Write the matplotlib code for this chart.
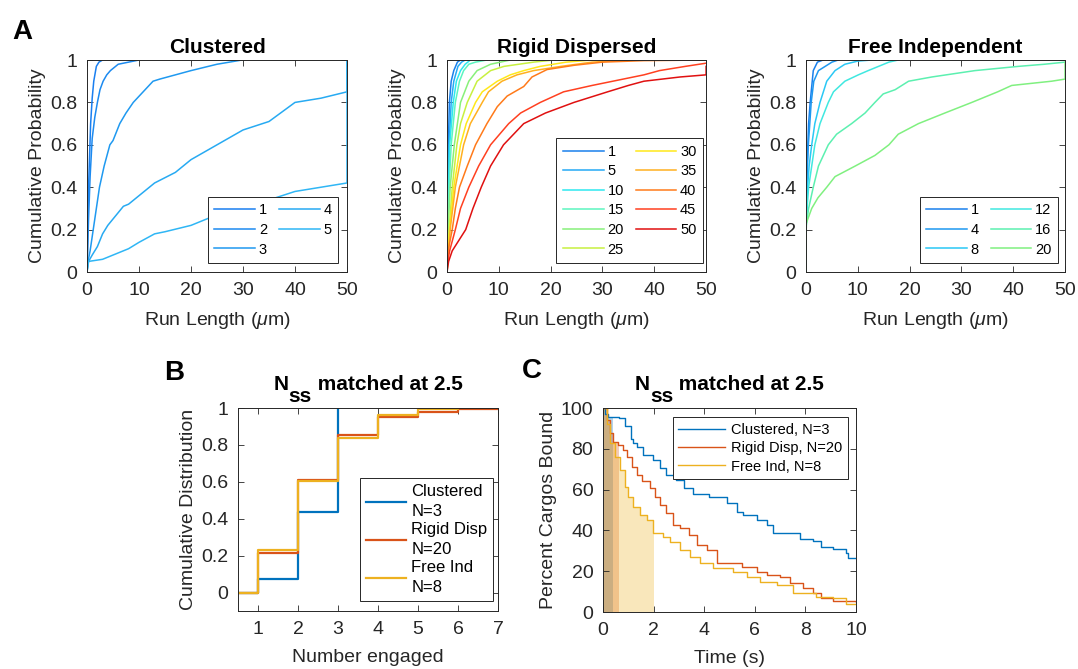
import numpy as np
import matplotlib
matplotlib.use('Agg')
import matplotlib.pyplot as plt
from matplotlib.transforms import offset_copy

plt.rcParams['font.family'] = ['Liberation Sans', 'DejaVu Sans']
plt.rcParams['mathtext.fontset'] = 'custom'
plt.rcParams['mathtext.rm'] = 'Liberation Sans'
plt.rcParams['mathtext.it'] = 'Liberation Sans:italic'
plt.rcParams['mathtext.bf'] = 'Liberation Sans:bold'

# ---- panel A: clustered ----
clus_labels = ['1', '2', '3', '4', '5']
clus_x = [
    [0, 0.15, 0.3, 0.5, 0.7, 1.0, 1.3, 1.8, 2.3, 3.0],
    [0, 0.15, 0.3, 0.6, 1.0, 1.5, 2.0, 2.5, 3.1, 3.8, 4.5, 6, 8, 10],
    [0, 0.2, 0.6, 1.2, 1.8, 2.4, 3.3, 4.4, 5.0, 6.3, 7.5, 8.9, 10.8, 12.7, 14, 17, 20, 25, 29.8],
    [0, 0.3, 1, 2, 3, 4, 5, 7, 8, 10, 13, 17, 20, 25, 30, 35, 40, 45, 50, 50],
    [0, 0.3, 3, 5, 8, 10, 13, 15, 20, 25, 30, 35, 40, 45, 50, 50],
]
clus_y = [
    [0, 0.2, 0.4, 0.55, 0.7, 0.82, 0.9, 0.97, 0.99, 1.0],
    [0, 0.12, 0.25, 0.45, 0.63, 0.73, 0.8, 0.86, 0.9, 0.93, 0.95, 0.98, 0.99, 1.0],
    [0, 0.05, 0.1, 0.2, 0.3, 0.4, 0.5, 0.6, 0.62, 0.7, 0.75, 0.8, 0.85, 0.9, 0.91, 0.93, 0.95, 0.98, 1.0],
    [0, 0.05, 0.08, 0.12, 0.18, 0.22, 0.25, 0.31, 0.32, 0.36, 0.42, 0.47, 0.53, 0.6, 0.67, 0.71, 0.8, 0.82, 0.85, 1.0],
    [0, 0.05, 0.06, 0.08, 0.11, 0.14, 0.18, 0.19, 0.22, 0.27, 0.31, 0.34, 0.38, 0.40, 0.42, 1.0],
]

# ---- panel A: rigid dispersed ----
rigid_labels = ['1', '5', '10', '15', '20', '25', '30', '35', '40', '45', '50']
rigid_x = [
    [0, 0.1, 0.25, 0.45, 0.8, 1.3, 2.0, 2.6],
    [0, 0.15, 0.4, 0.8, 1.3, 2.1, 2.8, 3.5],
    [0, 0.2, 0.5, 1.2, 1.8, 2.6, 3.5, 4.5],
    [0, 0.15, 0.4, 0.8, 1.6, 2.4, 3.2, 4.2, 5.5, 7.7],
    [0, 0.2, 0.6, 1.4, 2.6, 4.2, 5.8, 8.4, 12.2],
    [0, 0.4, 1.0, 1.9, 2.6, 3.9, 5.8, 8.4, 11, 16.7, 20.6],
    [0, 0.5, 1.3, 2.6, 3.7, 5.5, 6.8, 9.7, 12.2, 14.8, 18, 23, 28],
    [0, 0.6, 1.6, 3.2, 4.5, 6.8, 8, 10.6, 13.5, 16.7, 22, 28, 35],
    [0, 0.2, 1.0, 1.6, 2.4, 3.9, 5.5, 7.7, 9.7, 11.6, 14.8, 16.4, 19.3, 24.5, 30, 38, 50],
    [0, 0.5, 1.6, 2.6, 4.2, 6.1, 8.4, 11.9, 14.2, 18, 22.5, 28, 32, 38, 41, 46, 50],
    [0, 0.3, 1.0, 3.6, 5.0, 6.6, 8.4, 10.9, 14.8, 19, 24.5, 31, 35, 38, 45, 50, 50],
]
rigid_y = [
    [0, 0.3, 0.6, 0.8, 0.9, 0.95, 0.99, 1.0],
    [0, 0.3, 0.6, 0.8, 0.9, 0.97, 0.99, 1.0],
    [0, 0.3, 0.6, 0.8, 0.9, 0.95, 0.98, 1.0],
    [0, 0.2, 0.4, 0.6, 0.8, 0.9, 0.95, 0.98, 0.99, 1.0],
    [0, 0.2, 0.4, 0.6, 0.8, 0.9, 0.95, 0.98, 1.0],
    [0, 0.2, 0.4, 0.6, 0.7, 0.8, 0.9, 0.95, 0.97, 0.99, 1.0],
    [0, 0.2, 0.4, 0.6, 0.7, 0.8, 0.85, 0.9, 0.93, 0.95, 0.97, 0.99, 1.0],
    [0, 0.2, 0.4, 0.6, 0.7, 0.8, 0.85, 0.9, 0.93, 0.95, 0.97, 0.99, 1.0],
    [0.03, 0.1, 0.2, 0.3, 0.4, 0.5, 0.6, 0.7, 0.78, 0.83, 0.875, 0.92, 0.955, 0.975, 0.99, 0.997, 1.0],
    [0.03, 0.1, 0.2, 0.3, 0.4, 0.5, 0.6, 0.7, 0.75, 0.8, 0.85, 0.88, 0.9, 0.93, 0.95, 0.97, 0.985],
    [0, 0.05, 0.1, 0.2, 0.3, 0.4, 0.5, 0.6, 0.7, 0.75, 0.8, 0.85, 0.88, 0.9, 0.92, 0.93, 0.97],
]

# ---- panel A: free independent ----
free_labels = ['1', '4', '8', '12', '16', '20']
free_x = [
    [0, 0.05, 0.2, 0.5, 0.8, 1.4, 2.2, 3.3],
    [0, 0.05, 0.2, 0.45, 1.0, 1.5, 2.4, 3.7, 5, 6.2],
    [0, 0.05, 0.3, 0.6, 1.1, 1.7, 2.7, 4.0, 5.6, 7.5, 10, 12.7],
    [0, 0.05, 0.5, 1.1, 1.7, 2.7, 4.3, 5.3, 7.5, 10.1, 12, 14, 16, 17.8],
    [0, 0.05, 0.5, 1.4, 2.4, 4.3, 5.9, 8.8, 11.4, 13.3, 14.9, 17.2, 19.8, 24.3, 32.6, 41, 46, 50],
    [0, 0.05, 1.1, 2.3, 4.0, 5.6, 9.5, 13.3, 16, 17.8, 21.7, 26.8, 32, 37, 39.7, 47.4, 50, 50],
]
free_y = [
    [0, 0.25, 0.5, 0.7, 0.8, 0.95, 0.99, 1.0],
    [0, 0.25, 0.45, 0.6, 0.8, 0.9, 0.95, 0.97, 0.99, 1.0],
    [0, 0.25, 0.4, 0.5, 0.6, 0.7, 0.8, 0.9, 0.95, 0.98, 0.995, 1.0],
    [0, 0.25, 0.4, 0.5, 0.6, 0.7, 0.8, 0.85, 0.9, 0.93, 0.95, 0.97, 0.99, 1.0],
    [0, 0.22, 0.3, 0.4, 0.5, 0.6, 0.65, 0.7, 0.75, 0.8, 0.84, 0.86, 0.9, 0.92, 0.95, 0.97, 0.98, 0.99],
    [0, 0.23, 0.3, 0.35, 0.4, 0.45, 0.5, 0.55, 0.6, 0.65, 0.7, 0.75, 0.8, 0.85, 0.88, 0.9, 0.91, 0.99],
]

# ---- panel B ----
clus_n = [0, 1, 2, 3]
clus_cdf = [0, 0.076, 0.435, 1.0]
rigid_n = [0, 1, 2, 3, 4, 5, 6, 7]
rigid_cdf = [0, 0.212, 0.609, 0.855, 0.949, 0.98, 0.996, 1.0]
free_n = [0, 1, 2, 3, 4, 5, 6]
free_cdf = [0, 0.23, 0.607, 0.837, 0.964, 0.995, 1.0]
b_labels = ['Clustered\nN=3', 'Rigid Disp\nN=20', 'Free Ind\nN=8']

# ---- panel C ----
t_clus = [0, 0.08, 0.2, 0.65, 0.87, 1.1, 1.2, 1.33, 1.59, 1.99, 2.25, 2.5, 2.9, 3.2, 3.57, 4.2,
          4.9, 5.28, 5.55, 6.07, 6.47, 6.73, 7.5, 7.8, 8.3, 8.6, 9.1, 9.6, 9.7, 10]
p_clus = [100, 97, 95.5, 95, 91, 85, 82.7, 81, 77, 74.5, 70.4, 67, 64.7, 60.6, 58, 56.5,
          53.3, 49, 47.5, 45, 42.6, 38.6, 38.6, 36, 35, 32, 30.7, 28.8, 26.3, 26.3]
t_rigid = [0, 0.14, 0.28, 0.4, 0.6, 0.8, 0.93, 1.13, 1.33, 1.53, 1.86, 2.05, 2.25, 2.5, 2.78, 3.04,
           3.4, 3.7, 4.1, 4.5, 5.15, 5.5, 6.07, 6.47, 7.0, 7.4, 7.9, 8.3, 8.6, 9.1, 10]
p_rigid = [100, 94, 87.6, 83.5, 82, 79.4, 76, 71, 67, 64, 60.6, 56.5, 52.5, 48.4, 42.6, 41,
           37.7, 32.8, 30.4, 23.9, 23.9, 22.2, 19.8, 18.2, 17.3, 14, 11.6, 9.2, 7, 5.5, 5]
t_free = [0, 0.14, 0.28, 0.47, 0.67, 0.87, 1.0, 1.2, 1.46, 1.73, 1.99, 2.38, 2.65, 3.04, 3.44,
          3.83, 4.36, 5.15, 5.68, 6.2, 6.87, 7.5, 8.4, 9.1, 9.6, 10]
p_free = [100, 92, 83, 76, 69.6, 61.4, 56.5, 51.6, 47.5, 45, 38.6, 37, 34.5, 30.4, 27,
          24, 21.4, 19.8, 17.3, 14.9, 13.2, 9.2, 7.5, 6.7, 4, 4]
c_labels = ['Clustered, N=3', 'Rigid Disp, N=20', 'Free Ind, N=8']
c_cut = [0.41, 0.65, 2.0]

# colours
clus_colors = ['#1a7ff0', '#1c8af0', '#1f99f0', '#27aaf2', '#2fb6f5']
rigid_colors = ['#1a80ec', '#25aaf5', '#2de8f0', '#5cf5c0', '#88f07a', '#c8f040',
                '#ffe81a', '#ffb020', '#ff7a1a', '#ff4020', '#e01010']
free_colors = ['#1a80ec', '#1e98f0', '#2ac8f5', '#40e8e0', '#5cf0b0', '#80f080']
mat_colors = ['#0072bd', '#d95319', '#edb120']
axcol = '#262626'

fig = plt.figure(figsize=(10.78, 6.69), dpi=100)
renderer = fig.canvas.get_renderer()


def style(ax):
    ax.tick_params(direction='in', top=True, right=True, length=4, width=0.6,
                   labelsize=14, colors=axcol, pad=7)
    for s in ax.spines.values():
        s.set_color(axcol)
        s.set_linewidth(0.7)


def nss_title(ax):
    # N with a lowered bold "ss", then the rest, centred over the axes
    parts = ['N', 'ss', ' matched at 2.5']
    drops = [0, -12, 0]
    texts = [ax.text(0, 0, p, fontsize=15, fontweight='bold') for p in parts]
    widths = [t.get_window_extent(renderer).width for t in texts]
    x = -sum(widths) / 2
    for t, w, d in zip(texts, widths, drops):
        t.set_transform(offset_copy(ax.transAxes, fig, x=x, y=18 + d, units='dots'))
        t.set_position((0.5, 1.0))
        t.set_va('baseline')
        x += w


def panel_a(rect, title, xs, ys, labels, colors, lx):
    ax = fig.add_axes(rect)
    for x, y, lab, c in zip(xs, ys, labels, colors):
        ax.plot(x, y, color=c, lw=1.1, label=lab)
    ax.set_xlim(0, 50)
    ax.set_ylim(0, 1)
    ax.set_xticks([0, 10, 20, 30, 40, 50])
    ax.set_yticks([0, 0.2, 0.4, 0.6, 0.8, 1])
    ax.set_yticklabels(['0', '0.2', '0.4', '0.6', '0.8', '1'])
    ax.set_title(title, fontsize=15, fontweight='bold', pad=5)
    ax.set_xlabel(r'Run Length ($\mu$m)', fontsize=14, color=axcol, labelpad=8)
    ax.set_ylabel('Cumulative Probability', fontsize=14, color=axcol, labelpad=3)
    style(ax)
    leg = ax.legend(ncol=2, loc='lower right', bbox_to_anchor=(lx, 0.042), fontsize=10.5,
                    handlelength=2.8, fancybox=False, framealpha=1, edgecolor=axcol,
                    borderaxespad=0, columnspacing=0.8, labelspacing=0.38,
                    handletextpad=0.25, borderpad=0.45)
    leg.get_frame().set_linewidth(0.7)
    return ax


panel_a([0.0807, 0.5934, 0.2412, 0.3169], 'Clustered', clus_x, clus_y, clus_labels,
        clus_colors, 0.965)
panel_a([0.4147, 0.5934, 0.2403, 0.3169], 'Rigid Dispersed', rigid_x, rigid_y, rigid_labels,
        rigid_colors, 0.988)
panel_a([0.7477, 0.5934, 0.2403, 0.3169], 'Free Independent', free_x, free_y, free_labels,
        free_colors, 0.973)

# panel B
axb = fig.add_axes([0.2208, 0.0867, 0.2412, 0.3034])
for n, cdf, lab, c in zip([clus_n, rigid_n, free_n], [clus_cdf, rigid_cdf, free_cdf],
                          b_labels, mat_colors):
    axb.step(n, cdf, where='post', color=c, lw=1.6, label=lab)
axb.set_xlim(0.5, 7)
axb.set_ylim(-0.1, 1)
axb.set_xticks([1, 2, 3, 4, 5, 6, 7])
axb.set_yticks([0, 0.2, 0.4, 0.6, 0.8, 1])
axb.set_yticklabels(['0', '0.2', '0.4', '0.6', '0.8', '1'])
nss_title(axb)
axb.set_xlabel('Number engaged', fontsize=14, color=axcol, labelpad=8)
axb.set_ylabel('Cumulative Distribution', fontsize=14, color=axcol, labelpad=3)
style(axb)
leg = axb.legend(loc='lower right', bbox_to_anchor=(0.981, 0.049), fontsize=12,
                 handlelength=2.4, fancybox=False, framealpha=1, edgecolor=axcol,
                 borderaxespad=0, labelspacing=0.15, handletextpad=0.3, borderpad=0.35)
for txt in leg.get_texts():
    txt.set_linespacing(1.45)
leg.get_frame().set_linewidth(0.7)

# panel C
axc = fig.add_axes([0.5594, 0.0852, 0.2347, 0.3049])
for t, p, cut, c in zip([t_clus, t_rigid, t_free], [p_clus, p_rigid, p_free], c_cut, mat_colors):
    t = np.array(t, dtype=float)
    p = np.array(p, dtype=float)
    m = t <= cut
    tf = np.append(t[m], cut)
    pf = np.append(p[m], p[m][-1])
    axc.fill_between(tf, 0, pf, step='post', color=c, alpha=0.3, lw=0)
for t, p, lab, c in zip([t_clus, t_rigid, t_free], [p_clus, p_rigid, p_free], c_labels, mat_colors):
    axc.step(t, p, where='post', color=c, lw=1.0, label=lab)
axc.set_xlim(0, 10)
axc.set_ylim(0, 100)
axc.set_xticks([0, 2, 4, 6, 8, 10])
axc.set_yticks([0, 20, 40, 60, 80, 100])
nss_title(axc)
axc.set_xlabel('Time (s)', fontsize=14, color=axcol, labelpad=8)
axc.set_ylabel('Percent Cargos Bound', fontsize=14, color=axcol, labelpad=3)
style(axc)
leg = axc.legend(loc='upper right', bbox_to_anchor=(0.968, 0.956), fontsize=10.5,
                 handlelength=3.2, fancybox=False, framealpha=1, edgecolor=axcol,
                 borderaxespad=0, labelspacing=0.3, handletextpad=0.4, borderpad=0.4)
leg.get_frame().set_linewidth(0.7)

# panel letters
fig.text(12 / 1078, 1 - 39 / 669, 'A', fontsize=20, fontweight='bold')
fig.text(164 / 1078, 1 - 380 / 669, 'B', fontsize=20, fontweight='bold')
fig.text(522 / 1078, 1 - 378 / 669, 'C', fontsize=20, fontweight='bold')

fig.savefig('out.png', dpi=100)
